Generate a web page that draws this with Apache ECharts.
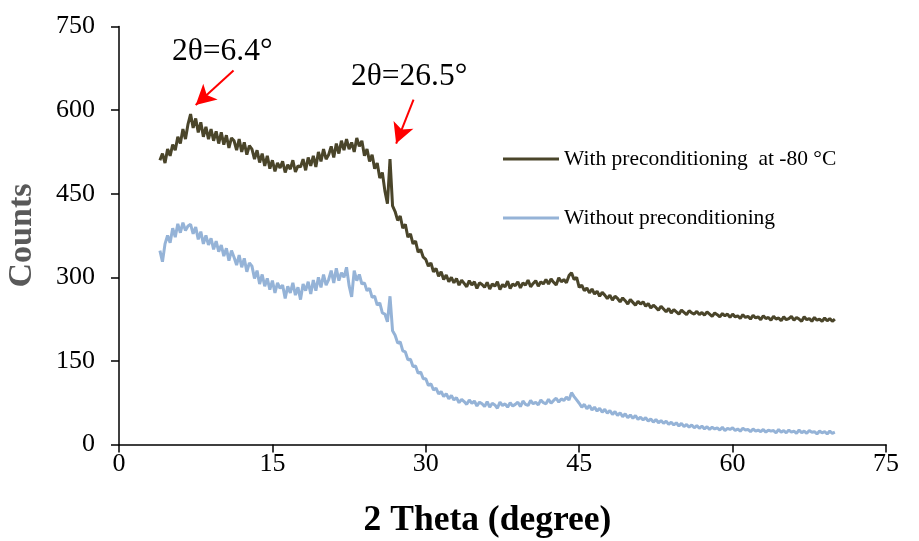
<!DOCTYPE html>
<html>
<head>
<meta charset="utf-8">
<script src="https://cdn.jsdelivr.net/npm/echarts@6/dist/echarts.min.js"></script>
<style>html,body{margin:0;padding:0;background:#fff}#c{width:919px;height:541px}</style>
</head>
<body>
<div id="c"></div>
<script>
// 2-theta grid of the scan (degrees)
const thetaStart = 4.0;
const thetaStep = 0.25;

const seriesNames = ['With preconditioning  at -80 \u00B0C', 'Without preconditioning'];

// Counts, one value per 0.25 degree from 4.00 to 70.00
const withPrecond = [
  510, 522, 505, 530, 518, 538, 528, 552, 540, 566, 548, 575,
  593, 568, 585, 560, 578, 552, 570, 548, 566, 545, 562, 540,
  560, 538, 555, 532, 550, 545, 528, 548, 525, 542, 520, 536,
  530, 512, 528, 506, 522, 500, 518, 495, 510, 490, 505, 496,
  508, 488, 502, 494, 510, 489, 500, 498, 512, 492, 515, 500,
  518, 498, 525, 508, 530, 512, 520, 535, 515, 540, 522, 545,
  528, 548, 530, 542, 525, 550, 535, 545, 518, 530, 508, 520,
  495, 505, 478, 488,
  455, 432, 512, 428,
  418, 402, 410, 388, 395, 372, 378, 360, 365, 345, 350, 336,
  332, 320, 326, 310, 316, 302, 310, 296, 304, 292, 300, 290,
  298, 286, 295, 289, 283, 294, 286, 292, 280, 290, 287, 282,
  291, 279, 288, 284, 292, 278, 287, 283, 293, 280, 288, 285,
  292, 281, 290, 286, 295, 283, 289, 294, 284, 292, 288, 296,
  288, 297, 291, 286, 299, 292, 296, 290, 303, 308, 296, 300,
  282, 286, 276, 281, 272, 279, 270, 275, 266, 273, 268, 262,
  268, 259, 266, 262, 256, 263, 258, 252, 260, 255, 250, 257,
  252, 256, 248, 253, 245, 250, 246, 241, 248, 243, 238, 244,
  236, 242, 238, 234, 241, 237, 233, 240, 236, 234, 239, 233,
  237, 232, 238, 234, 230, 236, 233, 229, 235, 231, 234, 228,
  234, 229, 231, 226, 233, 228, 230, 225, 232, 227, 229, 224,
  231, 226, 228, 223, 230, 225, 227, 222, 229, 224, 226, 230,
  223, 228, 225, 221, 229, 224, 226, 221, 228, 223, 225, 221,
  227, 222, 226, 221, 225
];

const withoutPrecond = [
  348, 328, 360, 375, 362, 388, 372, 396, 380, 398, 384, 392,
  395, 378, 390, 368, 382, 360, 375, 358, 370, 350, 365, 346,
  358, 338, 352, 330, 348, 336, 322, 340, 318, 334, 310, 326,
  320, 298, 312, 288, 305, 284, 298, 278, 294, 272, 290, 280,
  286, 262, 284, 272, 290, 268, 282, 260, 288, 276, 292, 270,
  295, 276, 300, 282, 305, 286, 296, 312, 290, 316, 294, 308,
  300, 318, 285, 265, 312, 294, 305, 288, 290, 276, 280, 264,
  266, 250, 254, 236,
  234, 220, 266, 204,
  196, 182, 184, 168, 166, 152, 153, 140, 141, 128, 130, 118,
  118, 106, 109, 98, 101, 91, 95, 86, 91, 82, 88, 80,
  84, 75, 81, 77, 72, 80, 74, 78, 69, 76, 73, 68,
  77, 67, 74, 71, 65, 76, 70, 73, 67, 75, 69, 72,
  76, 68, 78, 72, 70, 79, 73, 76, 71, 80, 75, 73,
  81, 74, 79, 83, 76, 82, 79, 85, 80, 93, 86, 80,
  74, 67, 72, 64, 70, 62, 67, 60, 65, 58, 63, 56,
  61, 54, 59, 52, 57, 50, 55, 48, 53, 47, 52, 45,
  49, 44, 48, 42, 46, 40, 45, 39, 43, 38, 42, 36,
  40, 35, 39, 33, 38, 32, 36, 31, 35, 30, 34, 29,
  33, 28, 32, 27, 31, 28, 30, 26, 31, 25, 29, 27,
  30, 25, 28, 24, 29, 26, 27, 23, 28, 24, 26, 23,
  27, 22, 26, 24, 25, 21, 27, 22, 25, 21, 26, 22,
  24, 20, 26, 21, 24, 20, 25, 22, 23, 19, 24, 21,
  23, 19, 24, 20, 22
];

// Axis settings
const xMin = 0, xMax = 75, xInterval = 15;
const yMin = 0, yMax = 750, yInterval = 150;

// Annotations: label text and arrow [tail, tip] in data coordinates
const annotationTexts = ['2\u03B8=6.4\u00B0', '2\u03B8=26.5\u00B0'];
const arrows = [
  [[11.2, 671], [7.5, 609]],
  [[28.8, 619], [27.1, 540]]
];

function pairs(vals) {
  return vals.map((v, i) => [thetaStart + i * thetaStep, v]);
}

const FONT = '"Liberation Serif", "Times New Roman", serif';
const chart = echarts.init(document.getElementById('c'), null, {renderer: 'canvas'});

chart.setOption({
  animation: false,
  backgroundColor: '#ffffff',
  grid: {left: 119, right: 33, top: 26.5, bottom: 96.5, containLabel: false, outerBoundsMode: 'none'},
  legend: {
    orient: 'vertical',
    left: 498,
    top: 143,
    itemGap: 37,
    itemWidth: 56,
    itemHeight: 3,
    icon: 'rect',
    textStyle: {fontFamily: FONT, fontSize: 21.5, color: '#000'},
    data: seriesNames
  },
  xAxis: {
    type: 'value',
    min: xMin, max: xMax, interval: xInterval,
    name: '2 Theta (degree)',
    nameLocation: 'middle',
    nameGap: 58,
    nameTextStyle: {fontFamily: FONT, fontSize: 35.5, fontWeight: 'bold', color: '#000', padding: [0, 30, 0, 0]},
    axisLine: {show: true, lineStyle: {color: '#000', width: 1.5}},
    axisTick: {show: true, inside: false, length: 8, lineStyle: {color: '#000', width: 1.5}},
    axisLabel: {fontFamily: FONT, fontSize: 26, color: '#000', margin: 7},
    splitLine: {show: false}
  },
  yAxis: {
    type: 'value',
    min: yMin, max: yMax, interval: yInterval,
    name: 'Counts',
    nameLocation: 'middle',
    nameGap: 80,
    nameTextStyle: {fontFamily: FONT, fontSize: 34, fontWeight: 'bold', color: '#595959'},
    axisLine: {show: true, lineStyle: {color: '#000', width: 1.5}},
    axisTick: {show: true, inside: false, length: 8, lineStyle: {color: '#000', width: 1.5}},
    axisLabel: {fontFamily: FONT, fontSize: 26, color: '#000', margin: 24},
    splitLine: {show: false}
  },
  series: [
    {
      name: seriesNames[0],
      type: 'line',
      data: pairs(withPrecond),
      showSymbol: false,
      symbol: 'none',
      lineStyle: {color: '#4A452A', width: 3},
      itemStyle: {color: '#4A452A'},
      z: 3,
      markLine: {
        silent: true,
        symbol: ['none', 'arrow'],
        symbolSize: [16, 20],
        label: {show: false},
        lineStyle: {color: '#FF0000', width: 2, type: 'solid'},
        emphasis: {disabled: true},
        data: arrows.map(a => [{coord: a[0]}, {coord: a[1]}])
      }
    },
    {
      name: seriesNames[1],
      type: 'line',
      data: pairs(withoutPrecond),
      showSymbol: false,
      symbol: 'none',
      lineStyle: {color: '#95B3D7', width: 3},
      itemStyle: {color: '#95B3D7'},
      z: 2
    }
  ],
  graphic: [
    {type: 'text', left: 172, top: 36, style: {text: annotationTexts[0], font: '31.5px ' + FONT, fill: '#000'}},
    {type: 'text', left: 351, top: 61, style: {text: annotationTexts[1], font: '31.5px ' + FONT, fill: '#000'}}
  ]
});
</script>
</body>
</html>
